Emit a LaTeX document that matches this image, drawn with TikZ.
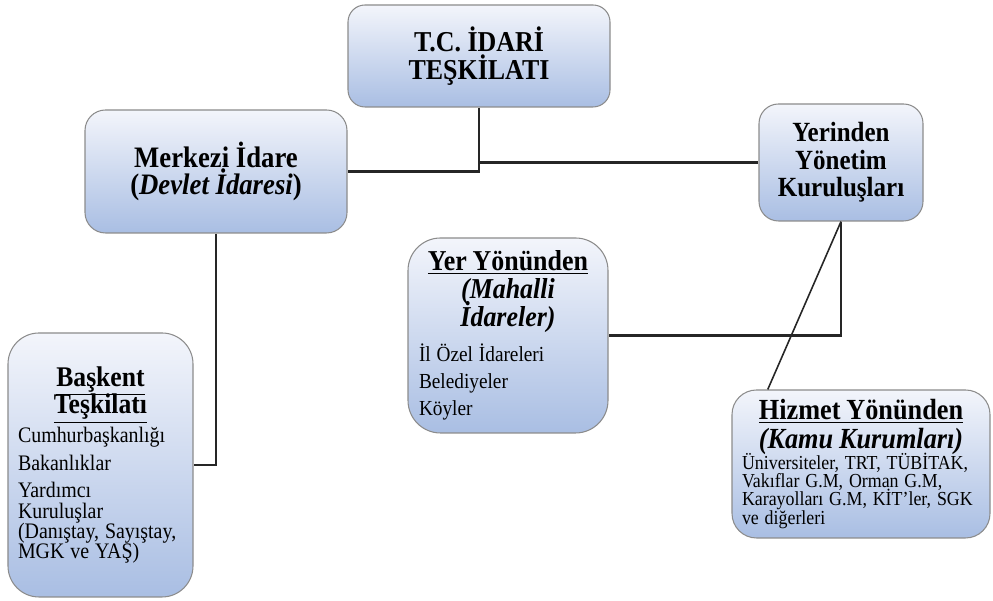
\documentclass[tikz,border=0pt]{standalone}
\usepackage{fontspec}
\setmainfont[FakeStretch=0.9]{Liberation Serif}
\usetikzlibrary{calc}
\definecolor{orgtop}{HTML}{F3F5FB}
\definecolor{orgbottom}{HTML}{A9BEE3}
\definecolor{orgborder}{HTML}{8C8C8C}
\definecolor{orgline}{HTML}{262626}
\tikzset{
  org/box/.style={
    draw=orgborder, line width=0.6pt, top color=orgtop, bottom color=orgbottom,
    inner sep=0pt, align=center, execute at begin node={\lineskiplimit=-20pt}
  },
  org/list/.style={org/box, align=left},
  org/line/.style={orgline, line width=1.2pt},
  org/thin/.style={orgline, line width=0.9pt}
}

\begin{document}
\begin{tikzpicture}[x=1cm, y=1cm]
  \useasboundingbox (0,0) rectangle (19.86,12.02);

  % --- Ust kutu ---
  \node[org/box, rounded corners=3.4mm, minimum width=5.24cm, minimum height=2.04cm,
    font=\fontsize{16.4}{16}\selectfont\bfseries] (tc) at (9.58,10.90)
    {T.C. İDARİ\\TEŞKİLATI};

  % --- Ikinci seviye ---
  \node[org/box, rounded corners=4.1mm, minimum width=5.24cm, minimum height=2.46cm,
    font=\fontsize{16.9}{15.6}\selectfont\bfseries] (merkezi) at (4.32,8.59)
    {Merkezi İdare\\(\textit{Devlet İdaresi})};
  \node[org/box, rounded corners=3.9mm, minimum width=3.28cm, minimum height=2.34cm,
    font=\fontsize{15.8}{15.6}\selectfont\bfseries] (yerinden) at (16.82,8.77)
    {Yerinden\\Yönetim\\Kuruluşları};

  % --- Alt kutular ---
  \node[org/list, rounded corners=6.5mm, minimum width=4.00cm, minimum height=3.90cm,
    text width=3.56cm] (yer) at (10.16,5.31) {%
    {\centering\fontsize{16.4}{15.8}\selectfont\bfseries
      \underline{Yer Yönünden}\\\textit{(Mahalli}\\\textit{İdareler)}\par}
    \vspace{4.5pt}
    {\fontsize{12.2}{15.4}\selectfont İl Özel İdareleri\\Belediyeler\\Köyler\par}
  };
  \node[org/list, rounded corners=6.2mm, minimum width=3.70cm, minimum height=5.28cm,
    text width=3.30cm] (baskent) at (2.01,2.72) {%
    {\centering\fontsize{16.2}{15.6}\selectfont\bfseries
      \underline{Başkent}\\\underline{Teşkilatı}\par}
    \vspace{5pt}
    {\fontsize{12.6}{11.6}\selectfont Cumhurbaşkanlığı\par\vspace{4pt}
      Bakanlıklar\par\vspace{4pt}
      Yardımcı\\Kuruluşlar\\(Danıştay, Sayıştay,\\MGK ve YAŞ)\par}
  };
  \node[org/list, rounded corners=4.9mm, minimum width=5.16cm, minimum height=2.96cm,
    text width=4.76cm] (hizmet) at (17.22,2.74) {%
    {\centering\fontsize{16.6}{16.2}\selectfont\bfseries
      \underline{Hizmet Yönünden}\\\textit{(Kamu Kurumları)}\par}
    \vspace{1.5pt}
    {\fontsize{11.3}{10.4}\selectfont Üniversiteler, TRT, TÜBİTAK,\\
      Vakıflar G.M, Orman G.M,\\Karayolları G.M, KİT’ler, SGK\\ve diğerleri\par}
  };

  % --- Baglantilar ---
  \draw[org/line] (tc.south) |- (merkezi.east);
  \draw[org/line] (tc.south |- yerinden.west) -- (yerinden.west);
  \draw[org/line] (merkezi.south) |- (baskent.east);
  \draw[org/line] (yerinden.south) |- (yer.east);
  \draw[org/thin] (yerinden.south) -- ($(hizmet.north west)!0.14!(hizmet.north east)$);
\end{tikzpicture}
\end{document}
